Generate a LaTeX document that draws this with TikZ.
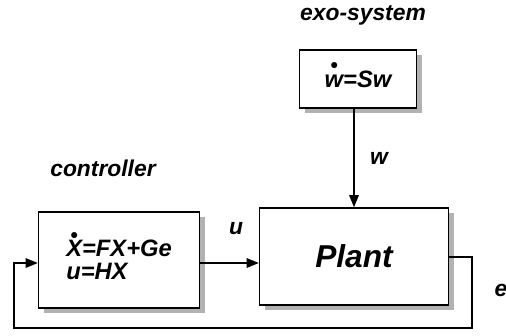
\documentclass[tikz,border=0pt]{standalone}
\usepackage{fontspec}
\setmainfont{Liberation Sans}
\usetikzlibrary{arrows.meta}
\tikzset{block/.style={draw,fill=white,minimum width=#1},
	sig/.style={-{Triangle[length=7pt,width=5.5pt]}},
	lbl/.style={font=\fontsize{13}{15}\selectfont\bfseries\itshape},
	eq/.style={font=\fontsize{13.5}{15}\selectfont\bfseries\itshape}}
\newcommand\topdot[1]{\leavevmode\ooalign{#1\cr\hidewidth\raisebox{0.62em}{\fontsize{12}{12}\selectfont\textbullet}\hidewidth\cr}}
\begin{document}
\begin{tikzpicture}[x=0.02cm,y=-0.02cm,line width=0.8pt]
			\useasboundingbox (0,0) rectangle (506,335);
			
			% shadows
			\fill [gray!60] (305,55) rectangle (422,113);
			\fill [gray!60] (265,213) rectangle (454,310);
			\fill [gray!60] (44,217) rectangle (205,313);
			
			\node [block=2.34cm,minimum height=1.16cm,eq] (exo) at (358,79) {\topdot{w}=Sw};
			\node [block=3.78cm,minimum height=1.94cm,font=\fontsize{18}{20}\selectfont\bfseries\itshape] (plant) at (354,256.5) {Plant};
			\node [block=3.22cm,minimum height=1.92cm,align=left,eq] (ctrl) at (119,260) {\topdot{X}=FX+Ge\\[-2pt]u=HX};
			
			\node [lbl] (exolbl) at (363,15) {exo-system};
			\node [lbl] (ctrllbl) at (103,168) {controller};
			\node [lbl] (wlbl) at (379,158) {w};
			\node [lbl] (ulbl) at (236,229) {u};
			\node [lbl] (elbl) at (501,290) {e};
			
			\coordinate (c1) at (472,257);
			\coordinate (c2) at (472,328);
			\coordinate (c3) at (14,328);
			\coordinate (c4) at (14,263);
			
			\draw [sig] (exo.south -| plant.north) -- (plant.north);
			\draw [sig] (ctrl.east |- 0,263) -- (plant.west |- 0,263);
			\draw [sig] (plant.east |- c1) -- (c1) -- (c2) -- (c3) -- (c4) -- (ctrl.west |- c4);
			\end{tikzpicture}
\end{document}
